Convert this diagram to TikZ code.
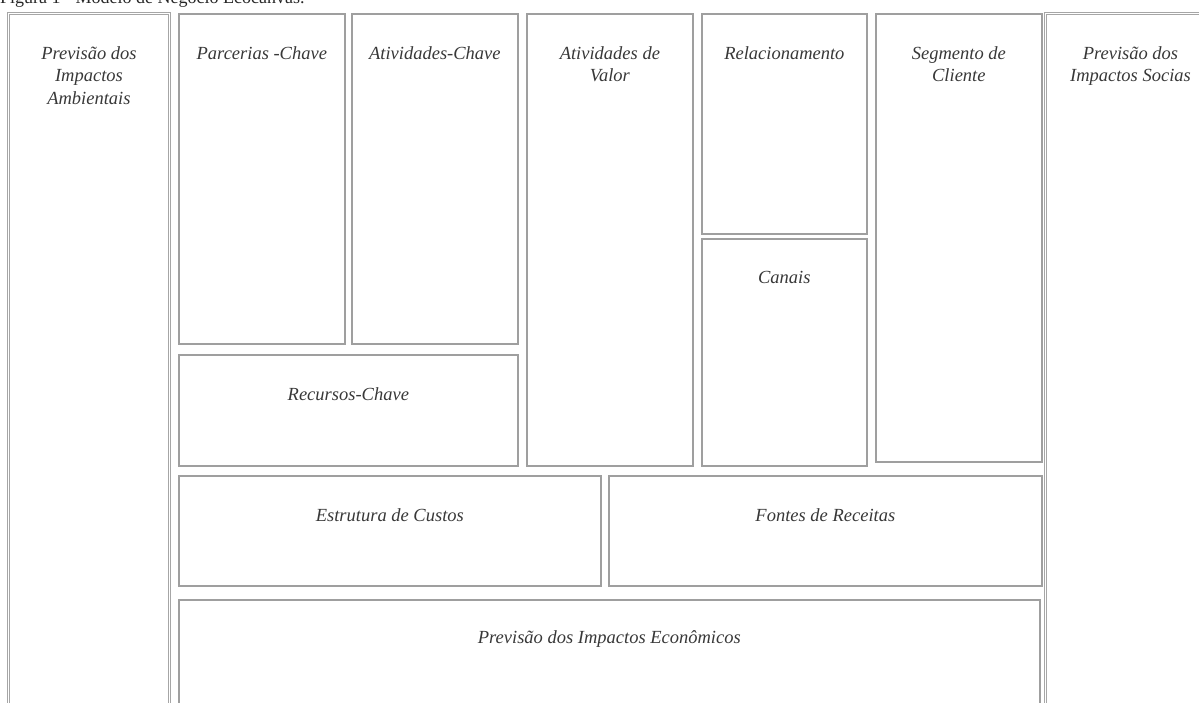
\documentclass[tikz,border=0pt]{standalone}
\usepackage{fontspec}
\setmainfont{Liberation Serif}
\usetikzlibrary{positioning}
\tikzset{
  coluna/.style = {draw=gray!70, double=white, double distance=1.1pt, line width=0.9pt,
                   anchor=north west, inner sep=0pt},
  caixa/.style  = {draw=gray!75, line width=1.7pt, anchor=north west, inner sep=0pt},
  titulo/.style = {font=\itshape\fontsize{18.5}{22.5}\selectfont, text=black!78,
                   align=center, inner sep=0pt}
}

\begin{document}
\begin{tikzpicture}[x=1pt, y=-1pt]
\useasboundingbox (0,0) rectangle (1199,702);
\clip (0,0) rectangle (1199,702);

% legenda, cortada no topo
\node[anchor=base west, inner sep=0pt, font=\fontsize{18}{20}\selectfont, text=black!85]
  (legenda) at (0,3) {Figura 1 - Modelo de Negócio Ecocanvas.};

% colunas laterais
\node[coluna, minimum width=161pt, minimum height=720pt] (amb) at (8,13) {};
\node[coluna, minimum width=170pt, minimum height=720pt] (soc) at (1045,13) {};

% blocos do canvas
\node[caixa, minimum width=166pt, minimum height=330pt] (pc) at (178,13) {};
\node[caixa, minimum width=166pt, minimum height=330pt] (ac) at (351,13) {};
\node[caixa, minimum width=339pt, minimum height=111pt] (rc) at (178,354) {};
\node[caixa, minimum width=166pt, minimum height=452pt] (av) at (526,13) {};
\node[caixa, minimum width=165pt, minimum height=220pt] (rel) at (701,13) {};
\node[caixa, minimum width=165pt, minimum height=227pt] (can) at (701,238) {};
\node[caixa, minimum width=166pt, minimum height=448pt] (sc) at (875,13) {};
\node[caixa, minimum width=422pt, minimum height=110pt] (ec) at (178,475) {};
\node[caixa, minimum width=433pt, minimum height=110pt] (fr) at (608,475) {};
\node[caixa, minimum width=861pt, minimum height=130pt] (eco) at (178,599) {};

% titulos
\begin{scope}[every node/.style={titulo}]
\node [below=33pt of amb.north] {Previsão dos\\Impactos\\Ambientais};
\node [below=33pt of soc.north] {Previsão dos\\Impactos Socias};
\node [below=33pt of pc.north] {Parcerias -Chave};
\node [below=33pt of ac.north] {Atividades-Chave};
\node [below=33pt of rc.north] {Recursos-Chave};
\node [below=33pt of av.north] {Atividades de\\Valor};
\node [below=33pt of rel.north] {Relacionamento};
\node [below=33pt of can.north] {Canais};
\node [below=33pt of sc.north] {Segmento de\\Cliente};
\node [below=33pt of ec.north] {Estrutura de Custos};
\node [below=33pt of fr.north] {Fontes de Receitas};
\node [below=31pt of eco.north] {Previsão dos Impactos Econômicos};
\end{scope}
\end{tikzpicture}
\end{document}
